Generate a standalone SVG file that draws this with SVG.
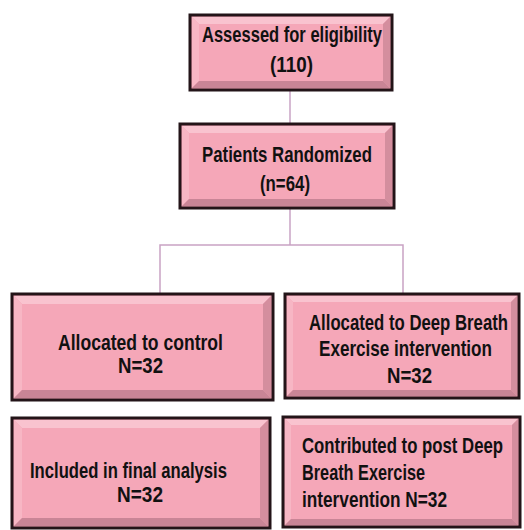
<svg xmlns="http://www.w3.org/2000/svg" width="524" height="530" viewBox="0 0 524 530">
<style>
.outer{fill:#f3a2b4;stroke:#231418;stroke-width:3}
.inner{fill:#f5a7b8}
.bt{fill:#f9c3cf}
.bl{fill:#f7b6c4}
.br{fill:#d48e9e}
.bb{fill:#c98596}
.t{font-family:"Liberation Sans",Arial,sans-serif;font-weight:bold;font-size:16.5px;fill:#111}
.c{stroke:#c9a3c4;stroke-width:1.5;fill:none}
</style>
<rect width="524" height="530" fill="#ffffff"/>
<g id="connectors">
<line class="c" x1="290" y1="90" x2="290" y2="124"/>
<line class="c" x1="290" y1="208" x2="290" y2="245"/>
<polyline class="c" points="160,294 160,245 403,245 403,294"/>
</g>
<g id="n1">
<rect class="outer" x="190" y="15" width="202" height="75"/>
<polygon class="bt" points="192,17 390,17 383,24 199,24"/>
<polygon class="bl" points="192,17 199,24 199,81 192,88"/>
<polygon class="br" points="390,17 390,88 383,81 383,24"/>
<polygon class="bb" points="192,88 390,88 383,81 199,81"/>
<rect class="inner" x="199" y="24" width="184" height="57"/>
<text class="t" transform="translate(202,42) scale(1,1.3)" textLength="180" lengthAdjust="spacingAndGlyphs">Assessed for eligibility</text>
<text class="t" transform="translate(270,72) scale(1,1.3)" textLength="43" lengthAdjust="spacingAndGlyphs">(110)</text>
</g>
<g id="n2">
<rect class="outer" x="180" y="124" width="214" height="84"/>
<polygon class="bt" points="182,126 392,126 385,133 189,133"/>
<polygon class="bl" points="182,126 189,133 189,199 182,206"/>
<polygon class="br" points="392,126 392,206 385,199 385,133"/>
<polygon class="bb" points="182,206 392,206 385,199 189,199"/>
<rect class="inner" x="189" y="133" width="196" height="66"/>
<text class="t" transform="translate(202,162) scale(1,1.3)" textLength="170" lengthAdjust="spacingAndGlyphs">Patients Randomized</text>
<text class="t" transform="translate(260,191) scale(1,1.3)" textLength="50" lengthAdjust="spacingAndGlyphs">(n=64)</text>
</g>
<g id="n3">
<rect class="outer" x="12" y="294" width="261" height="106"/>
<polygon class="bt" points="14,296 271,296 263,304 22,304"/>
<polygon class="bl" points="14,296 22,304 22,390 14,398"/>
<polygon class="br" points="271,296 271,398 263,390 263,304"/>
<polygon class="bb" points="14,398 271,398 263,390 22,390"/>
<rect class="inner" x="22" y="304" width="241" height="86"/>
<text class="t" transform="translate(58,350) scale(1,1.3)" textLength="165" lengthAdjust="spacingAndGlyphs">Allocated to control</text>
<text class="t" transform="translate(118,373) scale(1,1.3)" textLength="45" lengthAdjust="spacingAndGlyphs">N=32</text>
</g>
<g id="n4">
<rect class="outer" x="285" y="294" width="234" height="104"/>
<polygon class="bt" points="287,296 517,296 511,302 293,302"/>
<polygon class="bl" points="287,296 293,302 293,390 287,396"/>
<polygon class="br" points="517,296 517,396 511,390 511,302"/>
<polygon class="bb" points="287,396 517,396 511,390 293,390"/>
<rect class="inner" x="293" y="302" width="218" height="88"/>
<text class="t" transform="translate(309,330) scale(1,1.3)" textLength="199" lengthAdjust="spacingAndGlyphs">Allocated to Deep Breath</text>
<text class="t" transform="translate(319,356) scale(1,1.3)" textLength="173" lengthAdjust="spacingAndGlyphs">Exercise intervention</text>
<text class="t" transform="translate(387,383) scale(1,1.3)" textLength="45" lengthAdjust="spacingAndGlyphs">N=32</text>
</g>
<g id="n5">
<rect class="outer" x="12" y="418" width="258" height="110"/>
<polygon class="bt" points="14,420 268,420 260,428 22,428"/>
<polygon class="bl" points="14,420 22,428 22,518 14,526"/>
<polygon class="br" points="268,420 268,526 260,518 260,428"/>
<polygon class="bb" points="14,526 268,526 260,518 22,518"/>
<rect class="inner" x="22" y="428" width="238" height="90"/>
<text class="t" transform="translate(30,478) scale(1,1.3)" textLength="197" lengthAdjust="spacingAndGlyphs">Included in final analysis</text>
<text class="t" transform="translate(117,502) scale(1,1.3)" textLength="46" lengthAdjust="spacingAndGlyphs">N=32</text>
</g>
<g id="n6">
<rect class="outer" x="283" y="417" width="237" height="110"/>
<polygon class="bt" points="285,419 518,419 512,425 291,425"/>
<polygon class="bl" points="285,419 291,425 291,519 285,525"/>
<polygon class="br" points="518,419 518,525 512,519 512,425"/>
<polygon class="bb" points="285,525 518,525 512,519 291,519"/>
<rect class="inner" x="291" y="425" width="221" height="94"/>
<text class="t" transform="translate(302,453) scale(1,1.3)" textLength="201" lengthAdjust="spacingAndGlyphs">Contributed to post Deep</text>
<text class="t" transform="translate(302,480) scale(1,1.3)" textLength="123" lengthAdjust="spacingAndGlyphs">Breath Exercise</text>
<text class="t" transform="translate(302,507) scale(1,1.3)" textLength="145" lengthAdjust="spacingAndGlyphs">intervention N=32</text>
</g>
</svg>
